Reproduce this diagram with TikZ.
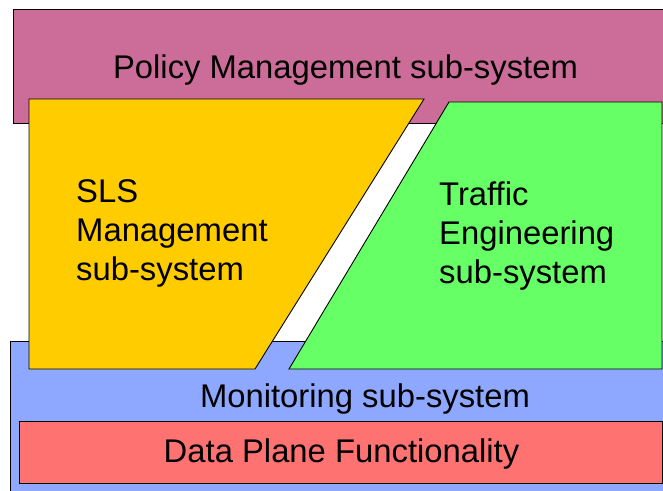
\documentclass[tikz,border=0pt]{standalone}
\usepackage{fontspec}
\setmainfont{Liberation Sans}
\definecolor{policypink}{HTML}{CC6D99}
\definecolor{slsyellow}{HTML}{FFCC00}
\definecolor{tegreen}{HTML}{66FF66}
\definecolor{monblue}{HTML}{8FA8FF}
\definecolor{datared}{HTML}{FF7272}
\begin{document}
\begin{tikzpicture}[x=1pt,y=-1pt,
  block/.style={draw=black,line width=0.9pt,line join=miter},
  label/.style={font=\fontsize{32.8}{39}\selectfont,inner sep=0pt,text=black},
  stacked/.style={label,align=left,anchor=base west}]
  \useasboundingbox (0,0) rectangle (663,490);
  \clip (0,0) rectangle (663,490);
  % layers, drawn from back to front
  \draw[block,fill=policypink] (13,9) rectangle (680,123);
  \draw[block,fill=monblue] (10,341) rectangle (680,500);
  \draw[block,fill=datared] (19,421) rectangle (662,483);
  \draw[block,fill=slsyellow] (29,99) -- (424,99) -- (255,369) -- (29,369) -- cycle;
  \draw[block,fill=tegreen] (449,102) -- (662,102) -- (662,369) -- (289,369) -- cycle;
  % texts (multi-line nodes are placed by the baseline of their last line)
  \node[label,anchor=base] (policy) at (345.5,78.5) {Policy Management sub-system};
  \node[label,anchor=base] (monitor) at (365,407.5) {Monitoring sub-system};
  \node[label,anchor=base] (data) at (341.5,462.5) {Data Plane Functionality};
  \node[stacked] (sls) at (76,280) {SLS\\Management\\sub-system};
  \node[stacked] (te) at (439,283) {Traffic\\Engineering\\sub-system};
\end{tikzpicture}
\end{document}
